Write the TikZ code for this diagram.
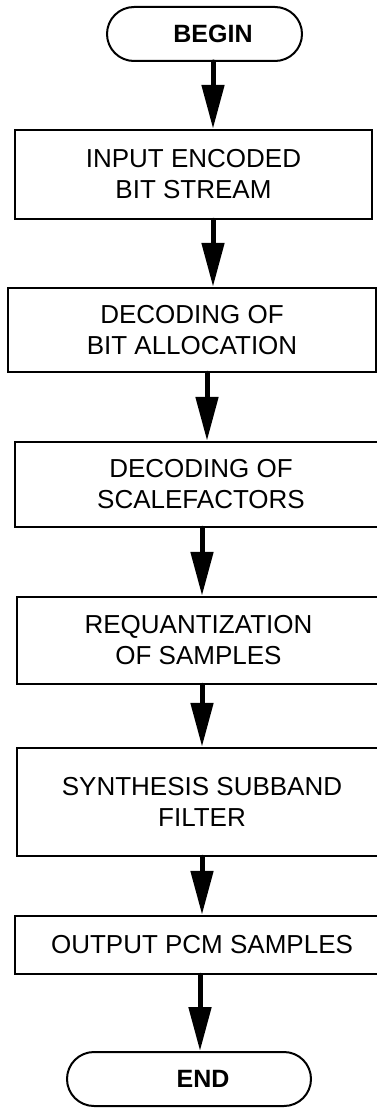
\documentclass[tikz,border=0pt]{standalone}
\usepackage{fontspec}
\setmainfont{Liberation Sans}
\usetikzlibrary{arrows.meta}
\begin{document}
\begin{tikzpicture}[x=1pt,y=-1pt,
  stepbox/.style={draw, line width=2.5pt, inner sep=0pt, align=center,
    font=\fontsize{26}{31}\selectfont},
  term/.style={draw, line width=2pt, inner sep=0pt, rounded corners=27pt,
    minimum height=54pt, font=\fontsize{25}{30}\selectfont\bfseries},
  flow/.style={line width=5pt, line cap=round,
    -{Triangle[length=44pt,width=22pt]}}]
\clip (0,0) rectangle (377,1108);
\node[term, minimum width=195pt] (b0) at (204.5,34) {\hspace*{17pt}BEGIN};
\node[stepbox, minimum width=357pt, minimum height=89pt] (b1) at (193.5,174.5) {INPUT ENCODED\\BIT STREAM};
\node[stepbox, minimum width=368pt, minimum height=84pt] (b2) at (192,330) {DECODING OF\\BIT ALLOCATION};
\node[stepbox, minimum width=372pt, minimum height=85pt] (b3) at (201,484.5) {DECODING OF\\SCALEFACTORS};
\node[stepbox, minimum width=363pt, minimum height=87pt] (b4) at (198.5,640.5) {REQUANTIZATION\\OF SAMPLES};
\node[stepbox, minimum width=370pt, minimum height=108pt] (b5) at (202,802) {SYNTHESIS SUBBAND\\FILTER};
\node[stepbox, minimum width=374pt, minimum height=58pt] (b6) at (202,945) {OUTPUT PCM SAMPLES};
\node[term, minimum width=244pt] (b7) at (189,1079) {\hspace*{28pt}END};
\draw[flow] (b0.south -| 213,0) -- (b1.north -| 213,0);
\draw[flow] (b1.south -| 213,0) -- (b2.north -| 213,0);
\draw[flow] (b2.south -| 207,0) -- (b3.north -| 207,0);
\draw[flow] (b3.south -| 202,0) -- (b4.north -| 202,0);
\draw[flow] (b4.south -| 202,0) -- (b5.north -| 202,0);
\draw[flow] (b5.south -| 202,0) -- (b6.north -| 202,0);
\draw[flow] (b6.south -| 200,0) -- (b7.north -| 200,0);
\end{tikzpicture}
\end{document}
